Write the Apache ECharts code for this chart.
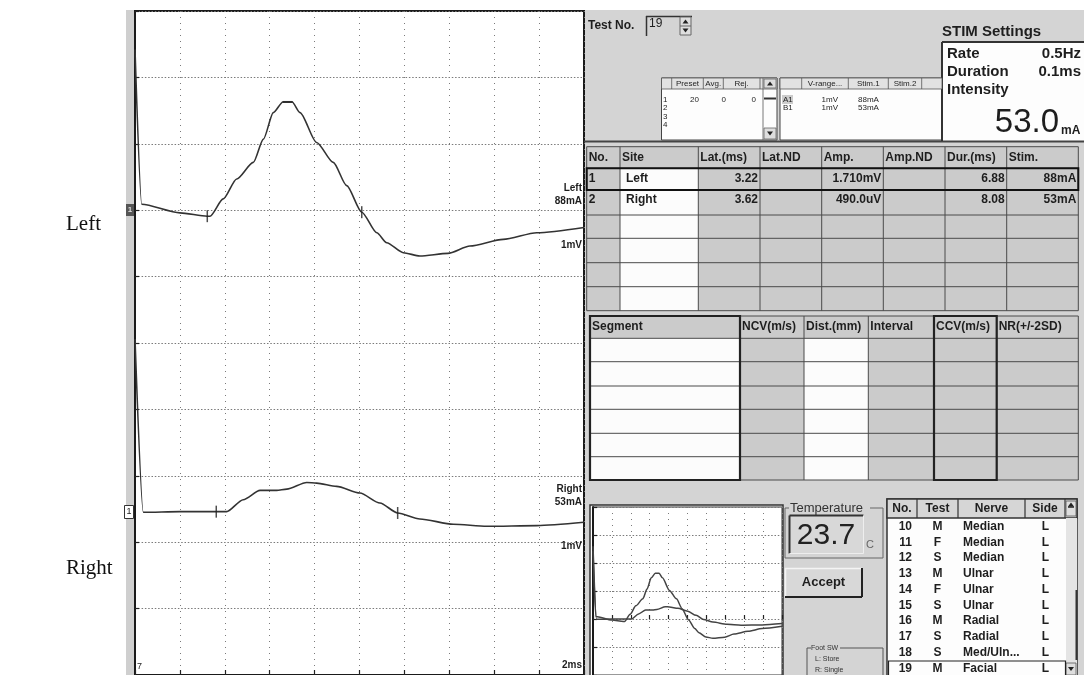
<!DOCTYPE html>
<html>
<head>
<meta charset="utf-8">
<script src="https://cdn.jsdelivr.net/npm/echarts@6/dist/echarts.min.js"></script>
<style>
html, body { margin: 0; padding: 0; background: #fff; }
#main { width: 1084px; height: 675px; }
</style>
</head>
<body>
<div id="main"></div>
<script>
// traces: time in ms, amplitude in mV relative to each trace's baseline
var leftTime = [0, 0.3, 2.0, 3.22, 3.34, 3.93, 4.53, 5.27, 5.72, 6.16, 6.59, 7.0, 7.35, 8.09, 8.83, 9.43, 10.1, 10.77, 11.21, 11.95, 12.69, 13.94, 14.92, 16.4, 17.9, 20];
var leftAmp = [2.42, 0.09, -0.04, -0.09, -0.09, 0.17, 0.47, 0.72, 1.07, 1.47, 1.63, 1.63, 1.47, 1.02, 0.72, 0.37, -0.03, -0.34, -0.49, -0.64, -0.69, -0.65, -0.54, -0.44, -0.34, -0.26];
var rightTime = [0, 0.37, 2.0, 3.62, 4.08, 4.82, 5.57, 6.31, 6.76, 7.65, 8.09, 8.98, 10.02, 10.91, 11.7, 12.69, 14.18, 15.67, 17.9, 20];
var rightAmp = [2.6, -0.01, 0, 0, 0, 0.18, 0.32, 0.32, 0.34, 0.44, 0.43, 0.38, 0.28, 0.13, -0.02, -0.11, -0.19, -0.22, -0.21, -0.16];
var leftMarks = [[3.22, -0.09], [10.1, -0.03]];
var leftPeak = [[6.8, 1.63]];
var rightMarks = [[3.62, 0], [11.7, -0.02]];

// table contents
var resultHeader = ['No.', 'Site', 'Lat.(ms)', 'Lat.ND', 'Amp.', 'Amp.ND', 'Dur.(ms)', 'Stim.'];
var resultRows = [
    ['1', 'Left', '3.22', '', '1.710mV', '', '6.88', '88mA'],
    ['2', 'Right', '3.62', '', '490.0uV', '', '8.08', '53mA']
];
var segmentHeader = ['Segment', 'NCV(m/s)', 'Dist.(mm)', 'Interval', 'CCV(m/s)', 'NR(+/-2SD)'];
var presetHeader = ['Preset', 'Avg.', 'Rej.'];
var presetRows = [['1', '20', '0', '0'], ['2', '', '', ''], ['3', '', '', ''], ['4', '', '', '']];
var rangeHeader = ['V-range...', 'Stim.1', 'Stim.2'];
var rangeRows = [['A1', '1mV', '88mA'], ['B1', '1mV', '53mA']];
var stimLabels = ['Rate', 'Duration', 'Intensity'];
var stimValues = ['0.5Hz', '0.1ms', ''];
var intensity = '53.0';
var temperature = '23.7';
var testNos = ['10', '11', '12', '13', '14', '15', '16', '17', '18', '19'];
var testTypes = ['M', 'F', 'S', 'M', 'F', 'S', 'M', 'S', 'S', 'M'];
var testNerves = ['Median', 'Median', 'Median', 'Ulnar', 'Ulnar', 'Ulnar', 'Radial', 'Radial', 'Med/Uln...', 'Facial'];
var testSides = ['L', 'L', 'L', 'L', 'L', 'L', 'L', 'L', 'L', 'L'];

// baselines of the two traces on the main screen, in divisions from the bottom
var LEFT_BASE = 7;
var RIGHT_BASE = 2.46;

var SANS = '"Liberation Sans", Arial, sans-serif';
var PANEL = '#d4d4d4';
var CELL = '#cbcbcb';
var INK = '#1e1e1e';
var RULE = '#4a4a4a';

var g = [];
function box(x, y, w, h, fill, stroke, lw, z) {
    g.push({type: 'rect', silent: true, z: z || 0,
        shape: {x: x, y: y, width: w, height: h},
        style: {fill: fill || 'none', stroke: stroke || null, lineWidth: lw || 1}});
}
function line(x1, y1, x2, y2, color, lw, z) {
    g.push({type: 'line', silent: true, z: z || 1,
        shape: {x1: x1, y1: y1, x2: x2, y2: y2},
        style: {stroke: color || RULE, lineWidth: lw || 1}});
}
function txt(x, y, s, font, align, color, z) {
    g.push({type: 'text', silent: true, z: z || 10, x: x, y: y,
        style: {text: s, font: font, fill: color || INK,
            textAlign: align || 'left', align: align || 'left',
            textVerticalAlign: 'middle', verticalAlign: 'middle'}});
}
function tri(cx, cy, up, z) {
    var d = up ? -2 : 2;
    g.push({type: 'polygon', silent: true, z: z || 2,
        shape: {points: [[cx - 3, cy - d], [cx + 3, cy - d], [cx, cy + d]]},
        style: {fill: '#222'}});
}

// labels outside the screen
txt(66, 224, 'Left', '21px "Liberation Serif", serif', 'left', '#111');
txt(66, 568, 'Right', '21px "Liberation Serif", serif', 'left', '#111');

// left strip with channel markers
box(126, 10, 9, 665, '#cfcfcf');
box(126, 204, 8, 12, '#555', null, 1, 1);
txt(130, 210, '1', 'bold 8px ' + SANS, 'center', '#ddd', 11);
box(124.5, 505.5, 9, 13, '#fff', '#333', 1, 1);
txt(129, 512, '1', '9px ' + SANS, 'center', '#222', 11);

// labels drawn on the screen
var lf = 'bold 10px ' + SANS;
txt(582, 188, 'Left', lf, 'right');
txt(582, 201.5, '88mA', lf, 'right');
txt(582, 245, '1mV', lf, 'right');
txt(582, 489.5, 'Right', lf, 'right');
txt(582, 502.7, '53mA', lf, 'right');
txt(582, 546.7, '1mV', lf, 'right');
txt(582, 665, '2ms', lf, 'right');
txt(137, 667, '7', '9px ' + SANS, 'left');

// right panel
box(584, 10, 500, 665, PANEL);
line(584, 141.5, 1084, 141.5, '#444', 2);

// test no.
txt(588, 26, 'Test No.', 'bold 12px ' + SANS);
line(646, 16.5, 692, 16.5, '#333', 1.5);
line(646.5, 16, 646.5, 36, '#333', 1.5);
txt(649, 24, '19', '12px ' + SANS);
box(680, 17, 11, 18, '#dedede', '#666', 1, 1);
line(680, 26, 691, 26, '#666', 1);
tri(685.5, 21.5, true);
tri(685.5, 30.5, false);

// stim settings
txt(942, 32, 'STIM Settings', 'bold 15px ' + SANS);
box(942, 42, 142, 99, '#fdfdfd');
line(942, 42, 1084, 42, '#333', 2);
line(942, 42, 942, 141, '#333', 2);
for (var i = 0; i < stimLabels.length; i++) {
    txt(947, 54 + i * 18, stimLabels[i], 'bold 15px ' + SANS);
    if (stimValues[i]) txt(1081, 54 + i * 18, stimValues[i], 'bold 15px ' + SANS, 'right');
}
txt(1059, 123, intensity, '33px ' + SANS, 'right');
txt(1061, 131, 'mA', 'bold 12px ' + SANS);

// preset table
var pf = '8px ' + SANS;
box(661.5, 78, 115.5, 62, '#fdfdfd', '#444', 1);
box(661.5, 78, 115.5, 11, '#e2e2e2', '#555', 0.8, 1);
var presetCols = [661.5, 671.7, 703.3, 723.3, 760, 763];
for (i = 1; i < presetCols.length; i++) line(presetCols[i], 78, presetCols[i], i < 5 ? 89 : 140, '#555', 0.8);
for (i = 0; i < presetHeader.length; i++) txt((presetCols[i + 1] + presetCols[i + 2]) / 2, 83.5, presetHeader[i], pf, 'center');
box(764, 79, 12, 9, '#dedede', '#666', 0.8, 1);
tri(770, 83.5, true);
line(764, 98.5, 776, 98.5, '#333', 2);
box(764, 128, 12, 11, '#dedede', '#666', 0.8, 1);
tri(770, 133.5, false);
for (i = 0; i < presetRows.length; i++) {
    var py = 99.3 + i * 8.6;
    txt(663, py, presetRows[i][0], pf);
    txt(699, py, presetRows[i][1], pf, 'right');
    txt(726, py, presetRows[i][2], pf, 'right');
    txt(756, py, presetRows[i][3], pf, 'right');
}

// v-range / stim table
box(780, 78, 162, 62, '#fdfdfd', '#444', 1);
box(780, 78, 162, 11, '#e2e2e2', '#555', 0.8, 1);
var rangeCols = [780, 801.7, 848.3, 888.3, 921.7];
for (i = 1; i < rangeCols.length; i++) line(rangeCols[i], 78, rangeCols[i], 89, '#555', 0.8);
for (i = 0; i < rangeHeader.length; i++) txt((rangeCols[i + 1] + rangeCols[i + 2]) / 2, 83.5, rangeHeader[i], pf, 'center');
box(782, 95, 11, 9, '#cccccc', null, 1, 1);
for (i = 0; i < rangeRows.length; i++) {
    var ry = 99.3 + i * 8.6;
    txt(783, ry, rangeRows[i][0], pf);
    txt(838, ry, rangeRows[i][1], pf, 'right');
    txt(858, ry, rangeRows[i][2], pf);
}

// results table
var tf = 'bold 12px ' + SANS;
var resCols = [586.7, 620, 698.3, 760, 821.7, 883.3, 945, 1006.7, 1078.3];
var resRowsY = [146.7, 168.3, 190, 215, 238.3, 262.7, 286.7, 310.7];
box(resCols[0], resRowsY[0], resCols[8] - resCols[0], resRowsY[7] - resRowsY[0], CELL);
box(resCols[1], resRowsY[1], resCols[2] - resCols[1], resRowsY[7] - resRowsY[1], '#fcfcfc', null, 1, 1);
for (i = 0; i < resCols.length; i++) line(resCols[i], resRowsY[0], resCols[i], resRowsY[7], RULE, 1, 2);
for (i = 0; i < resRowsY.length; i++) line(resCols[0], resRowsY[i], resCols[8], resRowsY[i], RULE, 1, 2);
box(resCols[0], resRowsY[1], resCols[8] - resCols[0], resRowsY[2] - resRowsY[1], 'none', '#111', 2, 3);
for (i = 0; i < resultHeader.length; i++) txt(resCols[i] + 2, 157.5, resultHeader[i], tf);
for (var r = 0; r < resultRows.length; r++) {
    var yy = r === 0 ? 178.5 : 200;
    for (var c = 0; c < resultRows[r].length; c++) {
        if (c < 2) txt(resCols[c] + (c === 0 ? 2 : 6), yy, resultRows[r][c], tf);
        else txt(resCols[c + 1] - 2, yy, resultRows[r][c], tf, 'right');
    }
}

// segment table
var segCols = [590, 740, 804, 868.3, 934, 996.7, 1078.3];
var segRowsY = [316, 338.3, 361.7, 386, 409.3, 433.3, 456.7, 480];
box(segCols[0], segRowsY[0], segCols[6] - segCols[0], segRowsY[7] - segRowsY[0], CELL);
box(segCols[0], segRowsY[1], segCols[1] - segCols[0], segRowsY[7] - segRowsY[1], '#fcfcfc', null, 1, 1);
box(segCols[2], segRowsY[1], segCols[3] - segCols[2], segRowsY[7] - segRowsY[1], '#fcfcfc', null, 1, 1);
for (i = 0; i < segCols.length; i++) line(segCols[i], segRowsY[0], segCols[i], segRowsY[7], RULE, 1, 2);
for (i = 0; i < segRowsY.length; i++) line(segCols[0], segRowsY[i], segCols[6], segRowsY[i], RULE, 1, 2);
box(segCols[0], segRowsY[0], segCols[1] - segCols[0], segRowsY[7] - segRowsY[0], 'none', '#222', 2.2, 3);
box(segCols[4], segRowsY[0], segCols[5] - segCols[4], segRowsY[7] - segRowsY[0], 'none', '#222', 2.2, 3);
for (i = 0; i < segmentHeader.length; i++) txt(segCols[i] + 2, 327, segmentHeader[i], tf);

// mini screen frame
box(590, 505, 193, 172, '#fff', '#333', 1.5);

// temperature
line(785, 508, 789, 508, '#666', 1);
line(870, 508, 883, 508, '#666', 1);
line(785, 508, 785, 558, '#666', 1);
line(883, 508, 883, 558, '#666', 1);
line(785, 558, 883, 558, '#666', 1);
txt(790, 508, 'Temperature', '13px ' + SANS, 'left', '#333');
box(789.5, 515.5, 74, 38, '#d8d8d8', null, 1, 1);
line(789.5, 515.5, 863.5, 515.5, '#333', 2);
line(789.5, 515.5, 789.5, 553.5, '#333', 2);
line(789.5, 553.5, 863.5, 553.5, '#eee', 1);
line(863.5, 515.5, 863.5, 553.5, '#eee', 1);
txt(826, 536, temperature, '30px ' + SANS, 'center', '#222');
txt(866, 545, 'C', '11px ' + SANS, 'left', '#666');

// accept button
box(785, 568, 77, 29, '#d8d8d8', null, 1, 1);
line(785, 568.5, 862, 568.5, '#f4f4f4', 1.5);
line(785.5, 568, 785.5, 597, '#f4f4f4', 1.5);
line(785, 597, 862, 597, '#222', 2);
line(862, 568, 862, 597, '#222', 2);
txt(823.5, 582.5, 'Accept', 'bold 13px ' + SANS, 'center');

// foot switch group
var ff = '7px ' + SANS;
line(807, 648, 811, 648, '#555', 1);
line(840, 648, 883, 648, '#555', 1);
line(807, 648, 807, 675, '#555', 1);
line(883, 648, 883, 675, '#555', 1);
txt(811, 648, 'Foot SW', ff, 'left', '#333');
txt(815, 659.5, 'L: Store', ff, 'left', '#333');
txt(815, 670.5, 'R: Single', ff, 'left', '#333');

// test list
var listCols = [887, 917, 958, 1025, 1065, 1077];
box(887, 499, 190, 178, '#fdfdfd', '#333', 1.5);
box(887, 499, 190, 19, '#d6d6d6', '#333', 1.5, 1);
for (i = 1; i < 5; i++) line(listCols[i], 499, listCols[i], 518, '#333', 1.2);
txt(902, 509, 'No.', tf, 'center');
txt(937.5, 509, 'Test', tf, 'center');
txt(991.5, 509, 'Nerve', tf, 'center');
txt(1045, 509, 'Side', tf, 'center');
box(1066, 501, 10, 15, '#dedede', '#555', 0.8, 2);
line(1068, 507, 1074, 507, '#222', 1.5, 3);
tri(1071, 504.5, true, 3);
box(1066, 518, 11, 157, '#e4e4e4', null, 1, 1);
line(1076.5, 590, 1076.5, 660, '#333', 2);
box(1066, 663, 10, 12, '#dedede', '#555', 0.8, 2);
tri(1071, 669, false, 3);
for (i = 0; i < testNos.length; i++) {
    var ly = 526.7 + i * 15.74;
    txt(912, ly, testNos[i], tf, 'right');
    txt(937.5, ly, testTypes[i], tf, 'center');
    txt(963, ly, testNerves[i], tf);
    txt(1045.5, ly, testSides[i], tf, 'center');
}
box(888.5, 661, 177, 15, 'none', '#222', 1.2, 3);

function traceData(ts, vs, base) {
    return ts.map(function (t, k) { return [t, base + vs[k]]; });
}

var dotX = {color: '#7a7a7a', width: 1, type: [1, 5]};
var dotY = {color: '#7a7a7a', width: 1, type: [1.5, 1.8]};
var traceStyle = {color: '#333', width: 1.6};

var option = {
    animation: false,
    backgroundColor: '#fff',
    graphic: {elements: g},
    grid: [
        {left: 135, top: 11, width: 449, height: 664, show: true, backgroundColor: '#fff',
            borderColor: '#1a1a1a', borderWidth: 2, z: 1},
        {left: 593, top: 507, width: 189, height: 168, show: true, backgroundColor: '#fff',
            borderColor: '#333', borderWidth: 1, z: 1}
    ],
    xAxis: [
        {gridIndex: 0, type: 'value', min: 0, max: 20, interval: 2, z: 2,
            axisLine: {show: false}, axisLabel: {show: false},
            axisTick: {inside: true, length: 5, lineStyle: {color: '#222', width: 1.2}},
            splitLine: {show: true, lineStyle: dotX}},
        {gridIndex: 1, type: 'value', min: 0, max: 20, interval: 2, z: 2,
            axisLine: {show: false}, axisLabel: {show: false},
            axisTick: {inside: true, length: 4, lineStyle: {color: '#222', width: 1.2}},
            splitLine: {show: true, lineStyle: dotX}}
    ],
    yAxis: [
        {gridIndex: 0, type: 'value', min: 0, max: 10, interval: 1, z: 2,
            axisLine: {show: true, lineStyle: {color: '#1a1a1a', width: 2}}, axisLabel: {show: false},
            axisTick: {inside: true, length: 4, lineStyle: {color: '#222', width: 1.2}},
            splitLine: {show: true, lineStyle: dotY}},
        {gridIndex: 1, type: 'value', min: -2, max: 4, interval: 1, z: 2,
            axisLine: {show: true, lineStyle: {color: '#1a1a1a', width: 2}}, axisLabel: {show: false},
            axisTick: {inside: true, length: 4, lineStyle: {color: '#222', width: 1.2}},
            splitLine: {show: true, lineStyle: dotY}}
    ],
    series: [
        {type: 'line', xAxisIndex: 0, yAxisIndex: 0, z: 4, showSymbol: false, smooth: 0.25, smoothMonotone: 'x',
            data: traceData(leftTime, leftAmp, LEFT_BASE), lineStyle: traceStyle},
        {type: 'line', xAxisIndex: 0, yAxisIndex: 0, z: 4, showSymbol: false, smooth: 0.25, smoothMonotone: 'x',
            data: traceData(rightTime, rightAmp, RIGHT_BASE), lineStyle: traceStyle},
        {type: 'scatter', xAxisIndex: 0, yAxisIndex: 0, z: 5, symbol: 'rect', symbolSize: [1.5, 12],
            itemStyle: {color: '#222'},
            data: traceData(leftMarks.map(function (m) { return m[0]; }), leftMarks.map(function (m) { return m[1]; }), LEFT_BASE)
                .concat(traceData(rightMarks.map(function (m) { return m[0]; }), rightMarks.map(function (m) { return m[1]; }), RIGHT_BASE))},
        {type: 'scatter', xAxisIndex: 0, yAxisIndex: 0, z: 5, symbol: 'rect', symbolSize: [10, 2],
            itemStyle: {color: '#222'},
            data: traceData([leftPeak[0][0]], [leftPeak[0][1]], LEFT_BASE)},
        {type: 'line', xAxisIndex: 1, yAxisIndex: 1, z: 4, showSymbol: false, smooth: 0.25, smoothMonotone: 'x',
            data: traceData(leftTime, leftAmp, 0), lineStyle: {color: '#444', width: 1.5}},
        {type: 'line', xAxisIndex: 1, yAxisIndex: 1, z: 4, showSymbol: false, smooth: 0.25, smoothMonotone: 'x',
            data: traceData(rightTime, rightAmp, 0), lineStyle: {color: '#444', width: 1.5}}
    ]
};

var myChart = echarts.init(document.getElementById('main'));
myChart.setOption(option);
</script>
</body>
</html>
